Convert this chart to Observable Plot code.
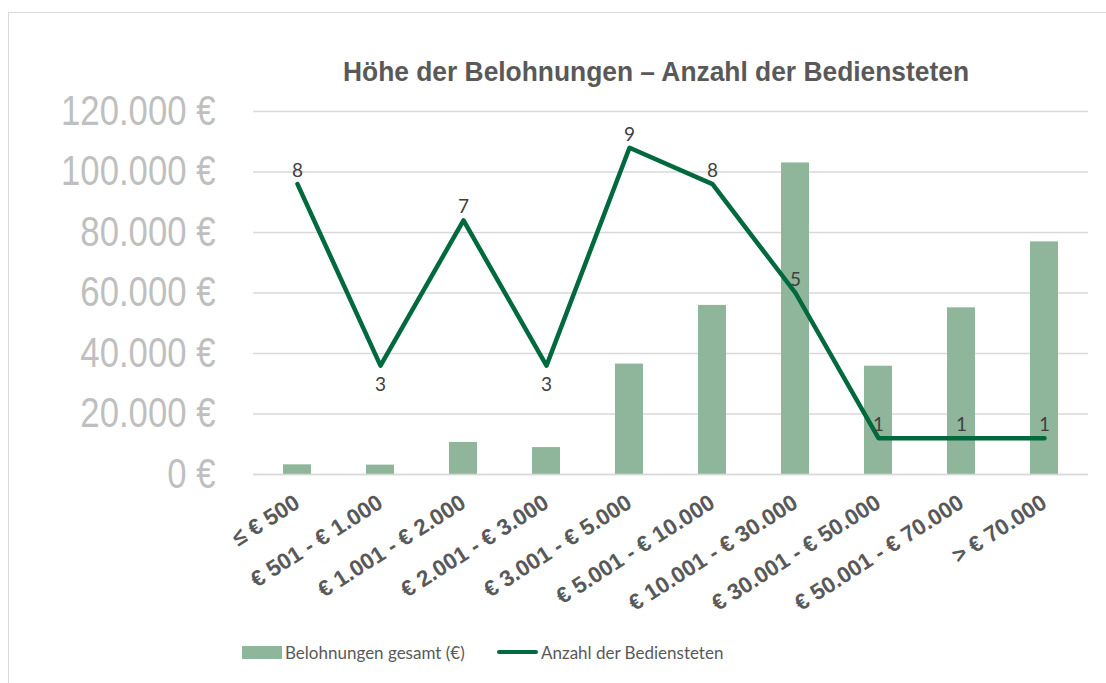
<!DOCTYPE html>
<html>
<head>
<meta charset="utf-8">
<script src="https://cdn.jsdelivr.net/npm/d3@7"></script>
<script src="https://cdn.jsdelivr.net/npm/@observablehq/plot@0.6"></script>
<style>
  html, body { margin: 0; padding: 0; background: #fff; }
  #wrap { position: relative; width: 1106px; height: 683px; overflow: hidden; }
  #frame { position: absolute; left: 8px; top: 12px; width: 1200px; height: 800px; border: 1.5px solid #d9d9d9; box-sizing: border-box; }
  #title { position: absolute; top: 56px; left: 656px; white-space: nowrap; transform-origin: 0 0;
           font-family: "Liberation Sans", Arial, sans-serif; font-weight: bold; font-size: 28px; color: #595959; }
  #chart { position: absolute; left: 0; top: 90px; }
  #legend { position: absolute; top: 640px; left: 0; width: 1106px; font-family: Lato, "Open Sans", sans-serif; font-size: 17px; color: #595959; }
  .li { position: absolute; top: 0; display: flex; align-items: center; height: 24px; white-space: nowrap; }
  .sw-bar { width: 40px; height: 13px; margin-right: 3px; }
  .sw-line { width: 41px; height: 4px; border-radius: 2px; margin-right: 3px; }
</style>
</head>
<body>
<div id="wrap">
  <div id="frame"></div>
  <div id="title">Höhe der Belohnungen – Anzahl der Bediensteten</div>
  <div id="chart"></div>
  <div id="legend"></div>
</div>
<script>
// ---- data ----
const categories = ["≤ € 500", "€ 501 - € 1.000", "€ 1.001 - € 2.000", "€ 2.001 - € 3.000", "€ 3.001 - € 5.000",
                    "€ 5.001 - € 10.000", "€ 10.001 - € 30.000", "€ 30.001 - € 50.000", "€ 50.001 - € 70.000", "> € 70.000"];
const belohnungen = [3200, 3100, 10600, 8900, 36500, 55900, 103000, 35800, 55100, 76900];
const bedienstete = [8, 3, 7, 3, 9, 8, 5, 1, 1, 1];
const yTicks = [0, 20000, 40000, 60000, 80000, 100000, 120000];
const seriesNames = ["Belohnungen gesamt (€)", "Anzahl der Bediensteten"];

const barColor = "#8fb69a";
const lineColor = "#00693e";
const yMax = 120000;
const countMax = 10; // secondary (hidden) axis 0–10

const rows = categories.map((c, i) => ({
  cat: c, value: belohnungen[i], count: bedienstete[i],
  below: i > 0 && i < categories.length - 1 && bedienstete[i] < bedienstete[i - 1] && bedienstete[i] < bedienstete[i + 1]
}));
const countToY = d => d.count / countMax * yMax;
const fmt = v => d3.format(",")(v).replace(/,/g, ".") + " €";

const plot = Plot.plot({
  width: 1106,
  height: 540,
  marginLeft: 253,
  marginRight: 18,
  marginTop: 21,
  marginBottom: 156,
  style: { background: "transparent", overflow: "visible" },
  x: { type: "band", domain: categories, paddingInner: 0.665, paddingOuter: 0.3325, label: null },
  y: { domain: [0, yMax], label: null },
  marks: [
    Plot.gridY(yTicks, { stroke: "#d9d9d9", strokeOpacity: 1, strokeWidth: 1.5 }),
    Plot.axisY({ ticks: yTicks, tickSize: 0, tickPadding: 38, tickFormat: fmt, label: null,
                 fontSize: 42, fill: "#bfbfbf", fontFamily: "Liberation Sans, Arial, sans-serif" }),
    Plot.barY(rows, { x: "cat", y: "value", fill: barColor }),
    Plot.ruleY([0], { stroke: "#d9d9d9", strokeWidth: 1.5 }),
    Plot.axisX({ tickSize: 0, tickPadding: 26, tickRotate: -32.5, label: null, fontSize: 22.5, fontWeight: "bold",
                 fill: "#595959", fontFamily: "Liberation Sans, Arial, sans-serif" }),
    Plot.line(rows, { x: "cat", y: countToY, stroke: lineColor, strokeWidth: 4.5, strokeLinejoin: "round", strokeLinecap: "round" }),
    Plot.text(rows.filter(d => !d.below), { x: "cat", y: countToY, text: d => String(d.count), dy: -13,
                 fontSize: 19, fill: "#404040", fontFamily: "Lato, Open Sans, sans-serif" }),
    Plot.text(rows.filter(d => d.below), { x: "cat", y: countToY, text: d => String(d.count), dy: 19,
                 fontSize: 19, fill: "#404040", fontFamily: "Lato, Open Sans, sans-serif" })
  ]
});
document.getElementById("chart").appendChild(plot);

// condensed (Arial Narrow–like) y tick labels: compress horizontally around their anchor
d3.select(plot).selectAll('[aria-label="y-axis tick label"] text').each(function () {
  const t = this.getAttribute("transform") || "";
  this.setAttribute("transform", t + " scale(0.827,1)");
});

// condensed title, centred at x = 656
const title = document.getElementById("title");
const tw = title.getBoundingClientRect().width;
const s = 626 / tw;
title.style.transform = `translateX(${-626 / 2}px) scale(${s},1)`;

const legend = document.getElementById("legend");
legend.innerHTML =
  `<div class="li" style="left:242px"><div class="sw-bar" style="background:${barColor}"></div>${seriesNames[0]}</div>` +
  `<div class="li" style="left:497px"><div class="sw-line" style="background:${lineColor}"></div>${seriesNames[1]}</div>`;
</script>
</body>
</html>
